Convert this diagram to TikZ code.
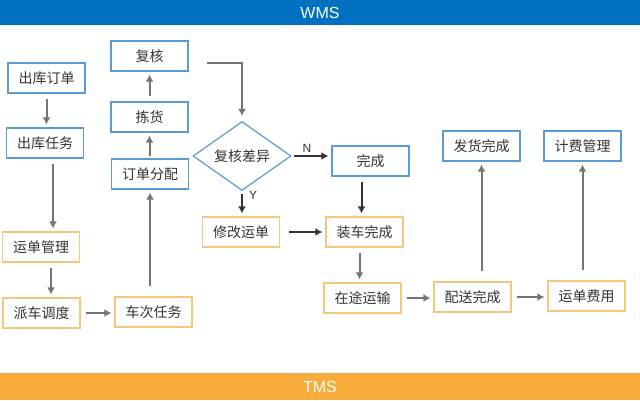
\documentclass[tikz,border=0pt]{standalone}
\usepackage{fontspec}
\setmainfont{Liberation Sans}
\newfontfamily\cjk{Noto Sans CJK SC}
\usetikzlibrary{shapes.geometric,arrows.meta}
\definecolor{wmsblue}{HTML}{0070C0}
\definecolor{tmsorange}{HTML}{F8AC3B}
\definecolor{wline}{HTML}{5B9BD5}
\definecolor{tline}{HTML}{F5C77E}
\definecolor{arrgray}{HTML}{757575}
\definecolor{txtgray}{HTML}{333333}
\tikzset{
  wbox/.style={draw=wline,line width=1.2pt,minimum width=77pt,minimum height=30pt,inner sep=0pt,font=\cjk\fontsize{14}{14}\selectfont,text=txtgray},
  tbox/.style={wbox,draw=tline},
  flow/.style={draw=arrgray,line width=2pt,-{Latex[length=7pt,width=8pt]},shorten >=3pt,shorten <=5pt},
}
\begin{document}
\begin{tikzpicture}[x=1pt,y=-1pt]
\useasboundingbox (0,0) rectangle (640,400);
%\draw[step=20,gray,very thin] (0,0) grid (640,400);
\fill[wmsblue] (0,0) rectangle (640,25);
\fill[tmsorange] (0,373) rectangle (640,400);
\node[text=white,font=\fontsize{16}{16}\selectfont] (wms) at (320,12.5) {WMS};
\node[text=white,font=\fontsize{16}{16}\selectfont] (tms) at (320,387) {TMS};
% WMS
\node[wbox] (ckdd) at (46.5,78) {出库订单};
\node[wbox] (ckrw) at (45,143) {出库任务};
\node[wbox] (fh) at (149.5,56) {复核};
\node[wbox] (jh) at (149.5,117) {拣货};
\node[wbox] (ddfp) at (150,174) {订单分配};
\node[diamond,draw=wline,line width=1.2pt,minimum width=98pt,minimum height=42pt,inner sep=0pt,font=\cjk\fontsize{14}{14}\selectfont,text=txtgray] (cy) at (242,156) {复核差异};
\node[wbox] (wc) at (370.5,161) {完成};
\node[wbox] (fhwc) at (481.5,146) {发货完成};
\node[wbox] (jfgl) at (582.5,146) {计费管理};
% TMS
\node[tbox] (ydgl) at (41,247) {运单管理};
\node[tbox] (pcdd) at (41.5,313) {派车调度};
\node[tbox] (ccrw) at (153.5,312) {车次任务};
\node[tbox] (xgyd) at (241,232) {修改运单};
\node[tbox] (zcwc) at (364.5,232) {装车完成};
\node[tbox] (ztys) at (362.5,298) {在途运输};
\node[tbox] (pswc) at (472.5,297) {配送完成};
\node[tbox] (ydfy) at (586.5,296) {运单费用};
% arrows
\draw[flow] (ckdd.south) -- (ckdd.south |- ckrw.north);
\draw[flow] ([xshift=8pt]ckrw.south) -- ([xshift=8pt]ckrw.south |- ydgl.north);
\draw[flow] ([xshift=10pt]ydgl.south) -- ([xshift=10pt]ydgl.south |- pcdd.north);
\draw[flow] (pcdd.east) -- (pcdd.east -| ccrw.west);
\draw[flow,shorten <=10pt] (ddfp |- ccrw.north) -- (ddfp.south);
\draw[flow,shorten <=2pt] (jh.south |- ddfp.north) -- (jh.south);
\draw[flow] (jh.north) -- (fh.south);
\draw[flow,shorten <=0pt,shorten >=5pt] ([xshift=18pt,yshift=-7pt]fh.east) -| (cy.north);
\draw[flow,draw=txtgray,shorten <=2pt] (cy.east) -- (cy.east -| wc.west);
\node[font=\fontsize{12}{12}\selectfont,text=txtgray] (n) at (307,148) {N};
\draw[flow,draw=txtgray,shorten <=3pt] (cy.south) -- (cy.south |- xgyd.north);
\node[font=\fontsize{12}{12}\selectfont,text=txtgray] (y) at (253,195) {Y};
\draw[flow,draw=txtgray,shorten <=9pt] (xgyd.east) -- (xgyd.east -| zcwc.west);
\draw[flow,draw=txtgray] ([xshift=-9pt]wc.south) -- ([xshift=-9pt]wc.south |- zcwc.north);
\draw[flow] ([xshift=-5pt]zcwc.south) -- ([xshift=-5pt]zcwc.south |- ztys.north);
\draw[flow] (ztys.east) -- (ztys.east -| pswc.west);
\draw[flow,shorten <=10pt] (fhwc |- pswc.north) -- (fhwc.south);
\draw[flow] (pswc.east) -- (pswc.east -| ydfy.west);
\draw[flow,shorten <=10pt] (jfgl |- ydfy.north) -- (jfgl.south);
\end{tikzpicture}
\end{document}
